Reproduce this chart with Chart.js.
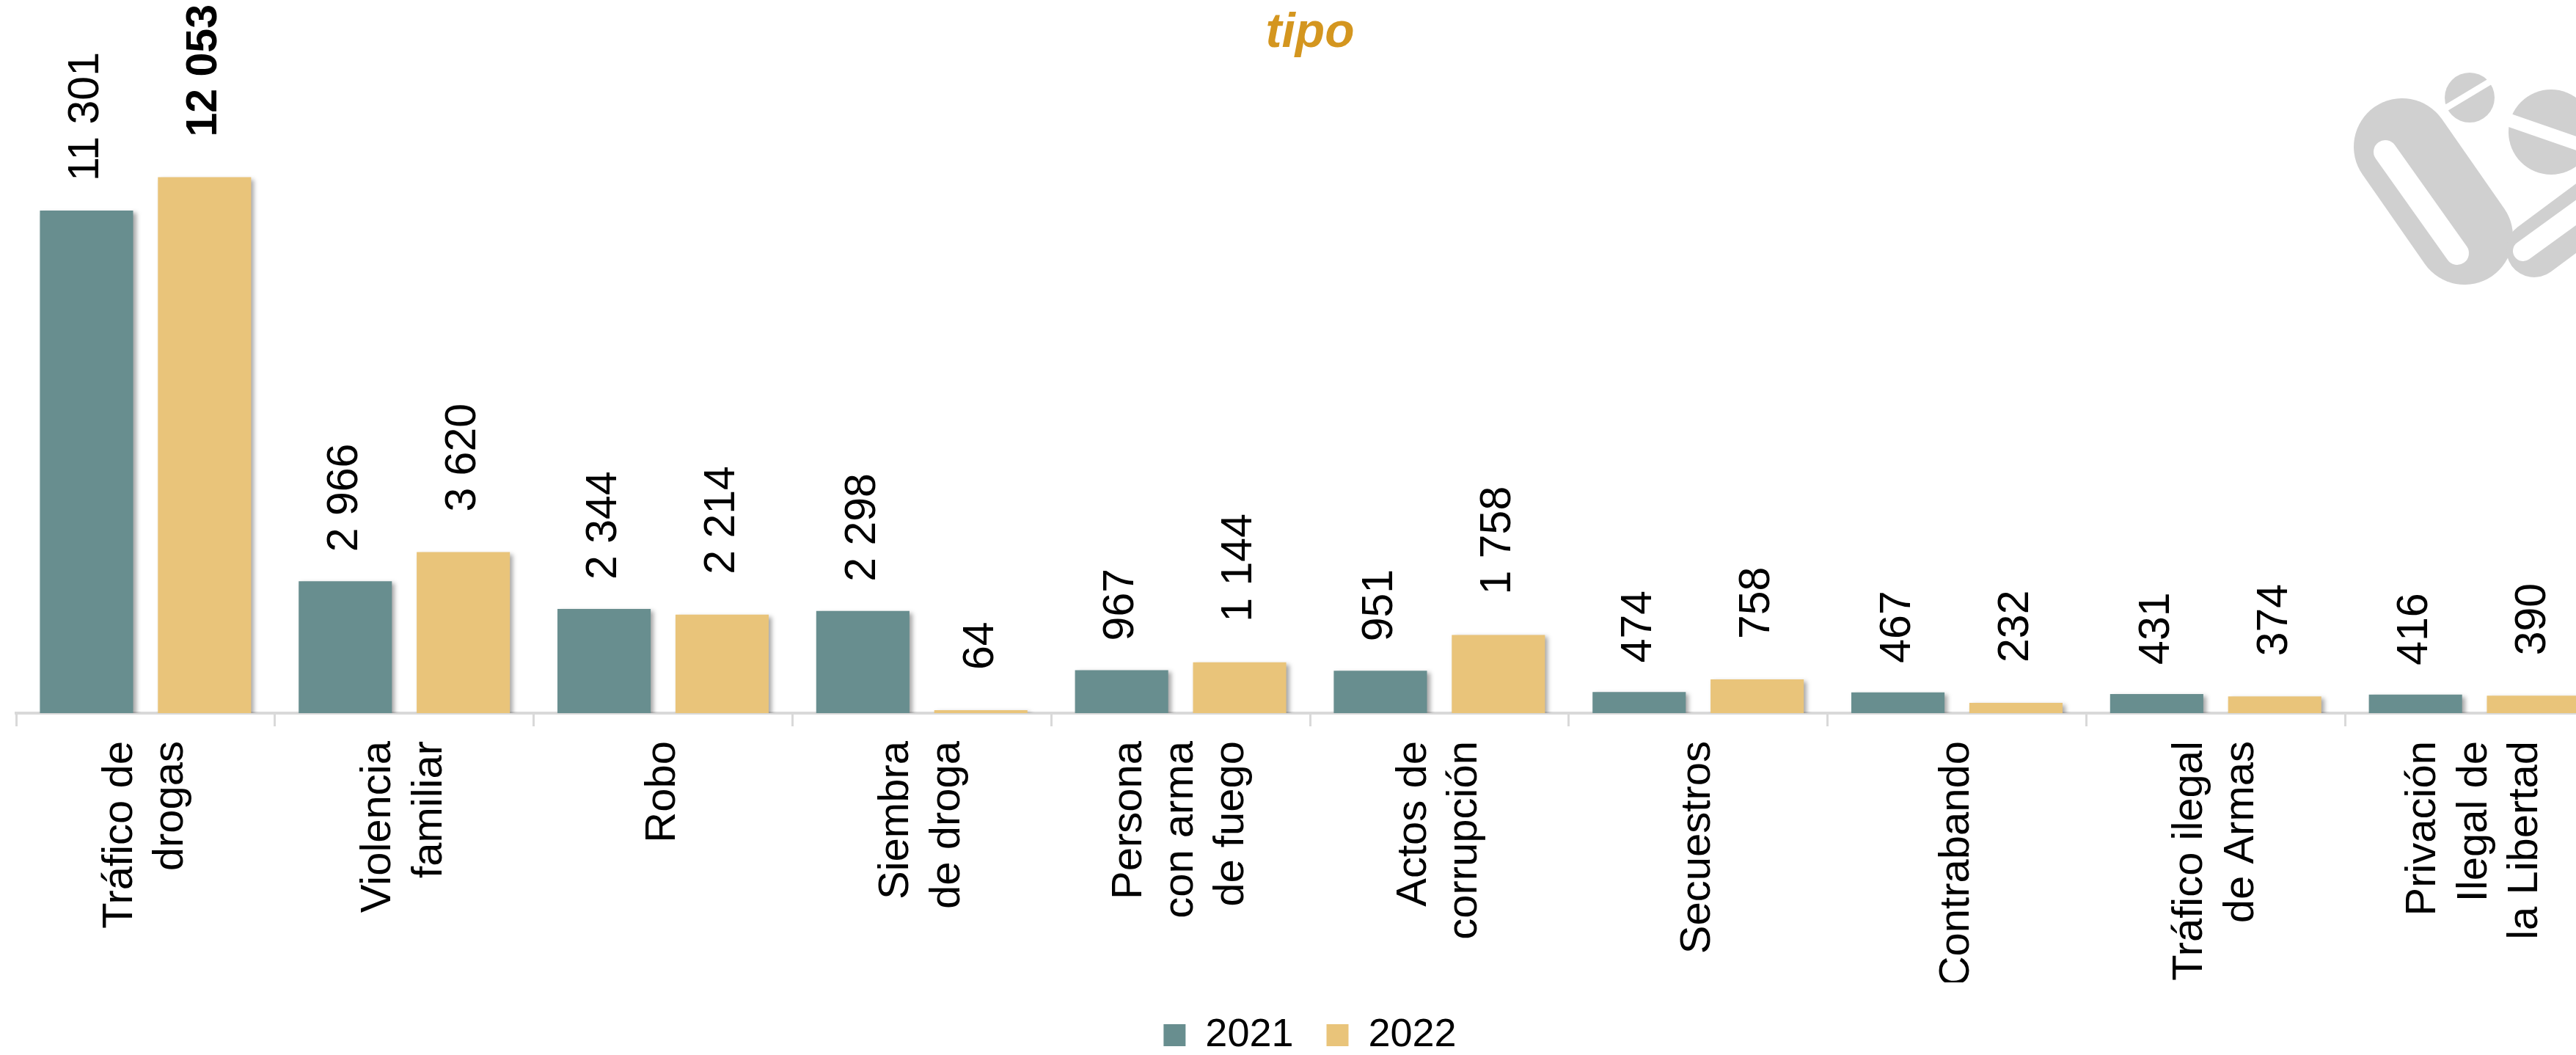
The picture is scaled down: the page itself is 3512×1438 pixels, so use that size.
<!DOCTYPE html>
<html>
<head>
<meta charset="utf-8">
<script src="https://cdn.jsdelivr.net/npm/chart.js@4"></script>
<style>
  html, body { margin: 0; padding: 0; background: #fff; overflow: hidden; }
  #wrap { position: relative; width: 3616px; height: 1438px; }
</style>
</head>
<body>
<div id="wrap"><canvas id="tipoChart"></canvas></div>
<script>
// Categories (multi-line labels)
const categories = [
    ["Tráfico de", "drogas"],
    ["Violencia", "familiar"],
    "Robo",
    ["Siembra", "de droga"],
    ["Persona", "con arma", "de fuego"],
    ["Actos de", "corrupción"],
    "Secuestros",
    "Contrabando",
    ["Tráfico ilegal", "de Armas"],
    ["Privación", "Ilegal de", "la Libertad"]
];

const values2021 = [11301, 2966, 2344, 2298, 967, 951, 474, 467, 431, 416];
const values2022 = [12053, 3620, 2214, 64, 1144, 1758, 758, 232, 374, 390];
const seriesNames = ["2021", "2022"];

const FONT = "'Liberation Sans', Arial, sans-serif";

// "11301" -> "11 301"
function formatThousands(v) {
    return String(v).replace(/\B(?=(\d{3})+(?!\d))/g, " ");
}

const maxValue = Math.max(...values2021, ...values2022);

// soft shadow behind bars
const barShadow = {
    id: "barShadow",
    beforeDatasetsDraw(chart) {
        const c = chart.ctx;
        c.save();
        c.shadowColor = "rgba(0,0,0,0.35)";
        c.shadowBlur = 6;
        c.shadowOffsetX = 4;
        c.shadowOffsetY = 3;
    },
    afterDatasetsDraw(chart) {
        chart.ctx.restore();
    }
};

// chart.js puts the first line of a rotated multi-line tick on the tick;
// shift the block so the lines are centred on the category instead
const centerTickLines = {
    id: "centerTickLines",
    beforeDraw(chart) {
        const scale = chart.scales.x;
        scale.getLabelItems().forEach(item => {
            if (item._centred) return;
            const n = Array.isArray(item.label) ? item.label.length : 1;
            item.options.translation[0] -= (n - 1) / 2 * item.font.lineHeight;
            item._centred = true;
        });
    }
};

// vertical value labels above each bar
const valueLabels = {
    id: "valueLabels",
    afterDatasetsDraw(chart) {
        const c = chart.ctx;
        chart.data.datasets.forEach((ds, i) => {
            const meta = chart.getDatasetMeta(i);
            meta.data.forEach((bar, j) => {
                const v = ds.data[j];
                c.save();
                c.translate(bar.x, bar.y - ds.labelGap);
                c.rotate(-Math.PI / 2);
                c.font = (v === maxValue ? "bold " : "") + "59px " + FONT;
                c.fillStyle = "#000";
                c.textAlign = "left";
                c.textBaseline = "middle";
                c.fillText(formatThousands(v), 0, 0);
                c.restore();
            });
        });
    }
};

// grey watermark logo in the top right corner
const watermark = {
    id: "watermark",
    beforeDraw(chart) {
        const c = chart.ctx;
        const capsule = (x1, y1, x2, y2, r) => {
            const a = Math.atan2(y2 - y1, x2 - x1);
            c.beginPath();
            c.arc(x1, y1, r, a + Math.PI / 2, a + 3 * Math.PI / 2);
            c.arc(x2, y2, r, a - Math.PI / 2, a + Math.PI / 2);
            c.closePath();
            c.fill();
        };
        c.save();
        c.fillStyle = "#d0d0d0";
        capsule(3275, 200, 3360, 322, 66);
        c.beginPath(); c.arc(3367, 133, 34, 0, Math.PI * 2); c.fill();
        c.beginPath(); c.arc(3478, 180, 58, 0, Math.PI * 2); c.fill();
        capsule(3455, 340, 3560, 262, 38);
        c.fillStyle = "#fff";
        capsule(3252, 207, 3350, 345, 16);
        capsule(3440, 342, 3560, 255, 14);
        c.lineWidth = 9;
        c.strokeStyle = "#fff";
        c.beginPath(); c.moveTo(3330, 150); c.lineTo(3405, 105); c.stroke();
        c.lineWidth = 18;
        c.beginPath(); c.moveTo(3410, 160); c.lineTo(3540, 205); c.stroke();
        c.restore();
    }
};

new Chart(document.getElementById("tipoChart"), {
    type: "bar",
    data: {
        labels: categories,
        datasets: [
            {
                label: seriesNames[0],
                data: values2021,
                backgroundColor: "#688E8F",
                labelGap: 40
            },
            {
                label: seriesNames[1],
                data: values2022,
                backgroundColor: "#E9C47A",
                labelGap: 55
            }
        ]
    },
    options: {
        responsive: true,
        maintainAspectRatio: false,
        animation: false,
        categoryPercentage: 0.912,
        barPercentage: 0.79,
        layout: { padding: { left: 22, right: 66, top: 0, bottom: -10 } },
        plugins: {
            title: {
                display: true,
                text: "tipo",
                color: "#D4961F",
                font: { family: FONT, size: 66, weight: "bold", style: "italic" },
                padding: { top: 6, bottom: 8 }
            },
            legend: {
                position: "bottom",
                labels: {
                    color: "#000",
                    font: { family: FONT, size: 54 },
                    boxWidth: 30,
                    boxHeight: 30,
                    padding: 45
                }
            },
            tooltip: { enabled: false }
        },
        scales: {
            x: {
                grid: {
                    display: true,
                    drawOnChartArea: false,
                    drawTicks: true,
                    tickLength: 18,
                    color: "#d9d9d9",
                    lineWidth: 3
                },
                border: { display: true, color: "#d9d9d9", width: 4 },
                ticks: {
                    color: "#000",
                    font: { family: FONT, size: 58, lineHeight: 1.2 },
                    maxRotation: 90,
                    minRotation: 90,
                    autoSkip: false,
                    padding: 20
                },
                // labels are shorter than the gap to the legend; keep the axis band fixed
                afterFit: (scale) => { scale.height = 367; }
            },
            y: {
                display: false,
                min: 0,
                max: 14500
            }
        }
    },
    plugins: [watermark, barShadow, centerTickLines, valueLabels]
});
</script>
</body>
</html>
